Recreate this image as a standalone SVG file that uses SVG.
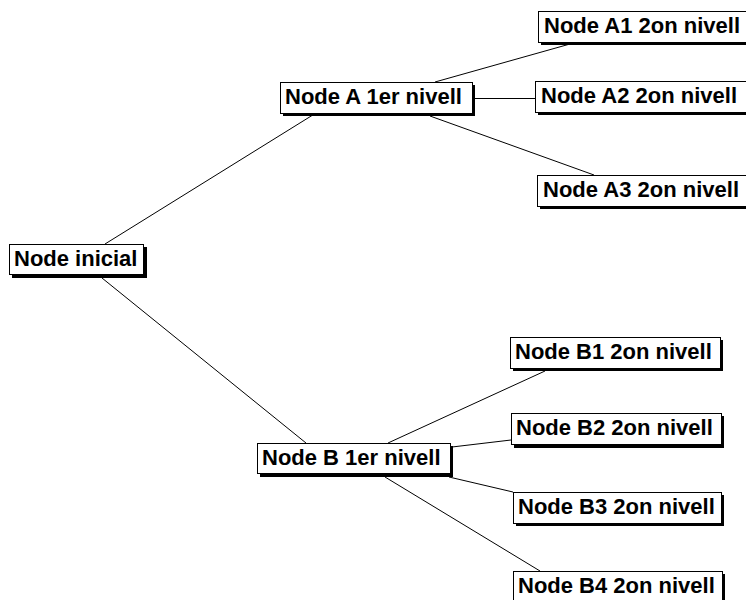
<svg xmlns="http://www.w3.org/2000/svg" width="746" height="600" viewBox="0 0 746 600">
<style>
.sh{fill:#000;}
.bx{fill:#fff;stroke:#000;stroke-width:1;}
.t{font-family:"Liberation Sans",Arial,sans-serif;font-weight:bold;font-size:22px;fill:#000;}
.c line{stroke:#000;stroke-width:1;}
</style>
<rect width="746" height="600" fill="#fff"/>
<g id="connectors" class="c">
<line x1="105" y1="244" x2="316" y2="113"/>
<line x1="102" y1="278" x2="306" y2="443"/>
<line x1="435" y1="82" x2="570" y2="44"/>
<line x1="474" y1="98.5" x2="535" y2="98.5"/>
<line x1="430" y1="116" x2="594" y2="175"/>
<line x1="388" y1="443" x2="545" y2="371"/>
<line x1="452" y1="447" x2="511" y2="440"/>
<line x1="449" y1="477" x2="513" y2="492"/>
<line x1="385" y1="477" x2="540" y2="571"/>
</g>
<g id="node-inicial"><rect class="sh" x="12" y="247" width="135" height="31"/><rect class="bx" x="9.5" y="244.5" width="134" height="30"/><text class="t" x="14" y="266">Node inicial</text></g>
<g id="node-a"><rect class="sh" x="283" y="85" width="192" height="31"/><rect class="bx" x="280.5" y="82.5" width="192" height="31"/><text class="t" x="285" y="104">Node A 1er nivell</text></g>
<g id="node-a1"><rect class="sh" x="541" y="14" width="215" height="31"/><rect class="bx" x="538.5" y="11.5" width="215" height="31"/><text class="t" x="544" y="33">Node A1 2on nivell</text></g>
<g id="node-a2"><rect class="sh" x="538" y="84" width="215" height="31"/><rect class="bx" x="535.5" y="81.5" width="215" height="31"/><text class="t" x="541" y="103">Node A2 2on nivell</text></g>
<g id="node-a3"><rect class="sh" x="540" y="178" width="215" height="31"/><rect class="bx" x="537.5" y="175.5" width="215" height="31"/><text class="t" x="543" y="197">Node A3 2on nivell</text></g>
<g id="node-b"><rect class="sh" x="260" y="446" width="193" height="31"/><rect class="bx" x="257.5" y="443.5" width="193" height="30"/><text class="t" x="262" y="465">Node B 1er nivell</text></g>
<g id="node-b1"><rect class="sh" x="513" y="340" width="210" height="31"/><rect class="bx" x="510.5" y="337.5" width="210" height="31"/><text class="t" x="515" y="359">Node B1 2on nivell</text></g>
<g id="node-b2"><rect class="sh" x="514" y="416" width="210" height="32"/><rect class="bx" x="511.5" y="413.5" width="210" height="31"/><text class="t" x="516" y="435">Node B2 2on nivell</text></g>
<g id="node-b3"><rect class="sh" x="516" y="495" width="208" height="31"/><rect class="bx" x="513.5" y="492.5" width="208" height="31"/><text class="t" x="518" y="514">Node B3 2on nivell</text></g>
<g id="node-b4"><rect class="sh" x="516" y="574" width="209" height="31"/><rect class="bx" x="513.5" y="571.5" width="209" height="31"/><text class="t" x="518" y="593">Node B4 2on nivell</text></g>
</svg>
